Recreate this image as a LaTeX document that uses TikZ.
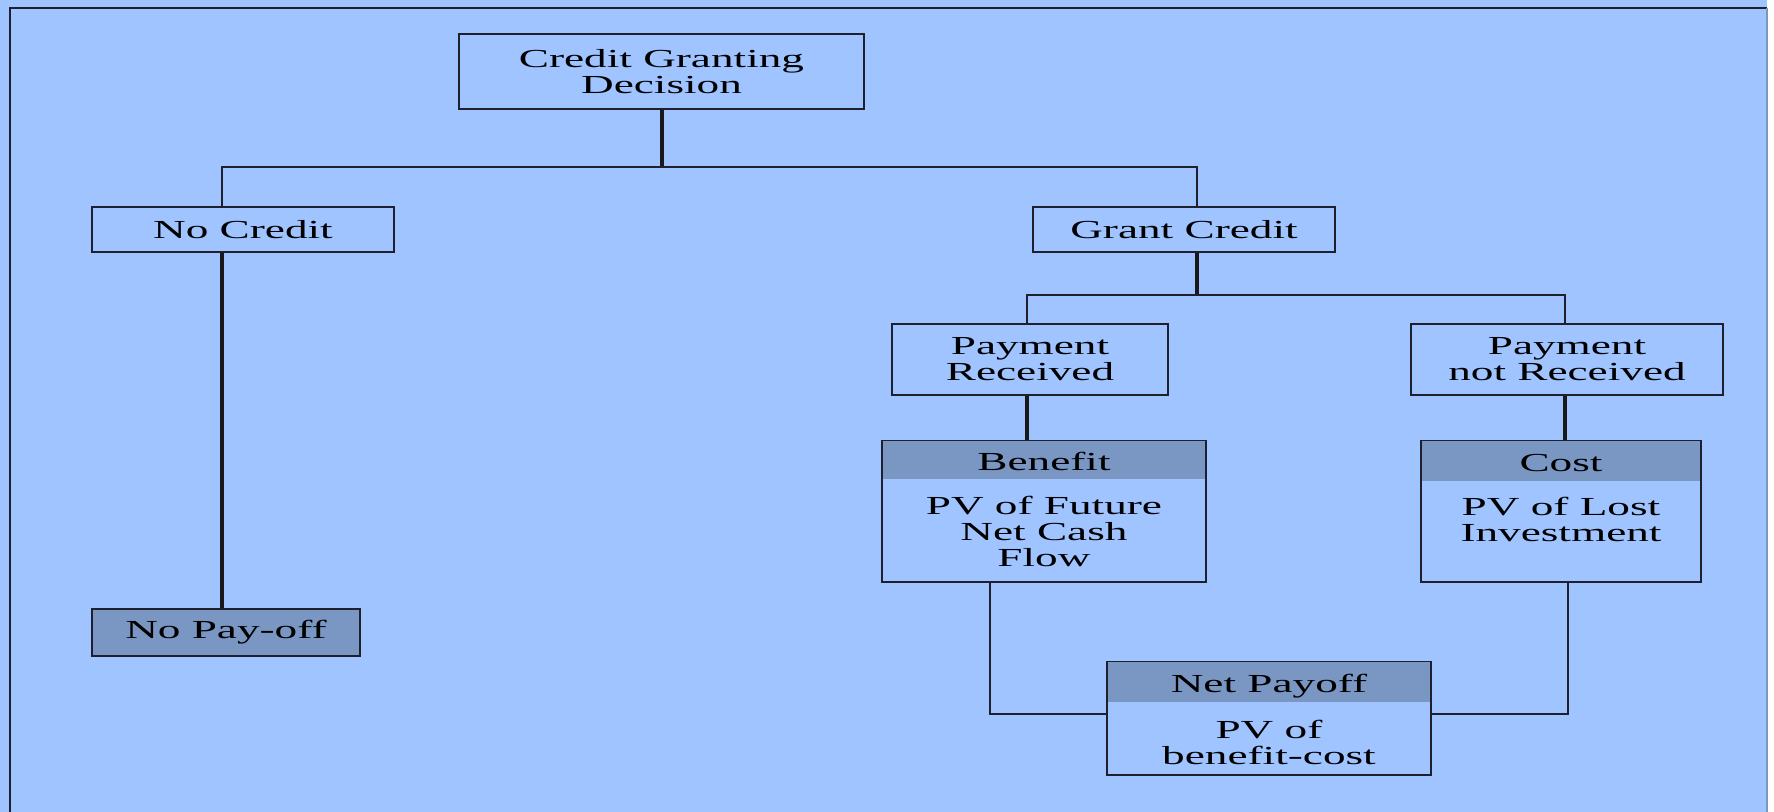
\documentclass[tikz,border=0pt]{standalone}
\usepackage{fontspec}
\setmainfont[FakeStretch=1.74]{Liberation Serif}
\definecolor{bgblue}{RGB}{159,196,255}
\definecolor{headblue}{RGB}{122,150,194}
\definecolor{linegray}{RGB}{30,32,45}

\tikzset{
  box/.style={draw=linegray, line width=1pt, fill=bgblue, inner sep=0pt, align=center, font=\fontsize{13}{13}\selectfont},
  headbar/.style={fill=headblue, inner sep=0pt, anchor=north, text height=10.5pt, text depth=0pt, font=\fontsize{13}{13}\selectfont},
  bodytext/.style={inner sep=0pt, anchor=north, align=center, font=\fontsize{13}{13}\selectfont},
  conn/.style={draw=linegray, line width=1.2pt},
  trunk/.style={draw=black!90, line width=2pt},
}

\begin{document}
\begin{tikzpicture}[x=0.5pt,y=-0.5pt]
  % Background and frame
  \useasboundingbox (0,0) rectangle (1774,812);
  \fill[bgblue] (0,0) rectangle (1767,812);
  \draw[linegray, line width=1pt] (10,812) -- (10,8) -- (1767,8);
  \draw[headblue, line width=1pt] (1767,8) -- (1767,812);

  % Plain boxes
  \node[box, minimum width=202.5pt, minimum height=37.5pt] (decision) at (661.5,71.5) {Credit Granting\\Decision};
  \node[box, minimum width=151pt, minimum height=22.5pt] (nocredit) at (243,229.5) {No Credit};
  \node[box, fill=headblue, minimum width=134pt, minimum height=23.5pt] (nopayoff) at (226,632.5) {No Pay-off};
  \node[box, minimum width=151pt, minimum height=22.5pt] (grant) at (1184,229.5) {Grant Credit};
  \node[box, minimum width=138pt, minimum height=35.5pt] (received) at (1030,359.5) {Payment\\Received};
  \node[box, minimum width=156pt, minimum height=35.5pt] (notreceived) at (1567,359.5) {Payment\\not Received};

  % Boxes with a header
  \node[box, minimum width=162pt, minimum height=70.5pt] (benefit) at (1044,511.5) {};
  \node[headbar, minimum width=161pt, minimum height=19pt] (benefithead) at ([yshift=-0.5pt]benefit.north) {Benefit};
  \node[bodytext] (benefitbody) at ([yshift=-8.2pt]benefithead.south) {PV of Future\\Net Cash\\Flow};

  \node[box, minimum width=140pt, minimum height=70.5pt] (cost) at (1561,511.5) {};
  \node[headbar, minimum width=139pt, minimum height=20pt] (costhead) at ([yshift=-0.5pt]cost.north) {Cost};
  \node[bodytext] (costbody) at ([yshift=-7.5pt]costhead.south) {PV of Lost\\Investment};

  \node[box, minimum width=162pt, minimum height=56.5pt] (netpayoff) at (1269,718.5) {};
  \node[headbar, minimum width=161pt, minimum height=20pt] (netpayoffhead) at ([yshift=-0.5pt]netpayoff.north) {Net Payoff};
  \node[bodytext] (netpayoffbody) at ([yshift=-8.3pt]netpayoffhead.south) {PV of\\benefit-cost};

  % Connectors
  \coordinate (split1) at (661.5,167);
  \coordinate (nc) at (222,167);
  \coordinate (gc) at (1197,167);
  \draw[trunk] (decision.south) -- (split1);
  \draw[conn] (nc |- nocredit.north) -- (nc) -- (gc) -- (gc |- grant.north);
  \draw[trunk] (nc |- nocredit.south) -- (nc |- nopayoff.north);

  \coordinate (split2) at (1197,295);
  \coordinate (pr) at (1027,295);
  \coordinate (pnr) at (1565,295);
  \draw[trunk] (split2 |- grant.south) -- (split2);
  \draw[conn] (pr |- received.north) -- (pr) -- (pnr) -- (pnr |- notreceived.north);
  \draw[trunk] (pr |- received.south) -- (pr |- benefit.north);
  \draw[trunk] (pnr |- notreceived.south) -- (pnr |- cost.north);

  \coordinate (bl) at (990,714);
  \coordinate (cl) at (1568,714);
  \draw[conn] (bl |- benefit.south) -- (bl) -- (bl -| netpayoff.west);
  \draw[conn] (cl |- cost.south) -- (cl) -- (cl -| netpayoff.east);
\end{tikzpicture}
\end{document}
